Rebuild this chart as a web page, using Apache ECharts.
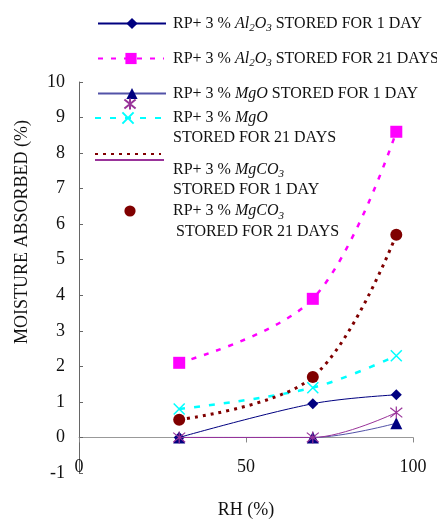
<!DOCTYPE html>
<html>
<head>
<meta charset="utf-8">
<script src="https://cdn.jsdelivr.net/npm/echarts@6/dist/echarts.min.js"></script>
<style>html,body{margin:0;padding:0;background:#fff}#c{width:437px;height:519px}</style>
</head>
<body>
<div id="c"></div>
<script>
const rhValues = [30, 70, 95];
const al2o3Day1 = [0, 0.95, 1.2];
const al2o3Day21 = [2.1, 3.9, 8.6];
const mgoDay1 = [0, 0, 0.4];
const mgoDay21 = [0.8, 1.4, 2.3];
const mgco3Day1 = [0, 0, 0.7];
const mgco3Day21 = [0.5, 1.7, 5.7];
const xTicks = [0, 50, 100];
const yTicks = [-1, 0, 1, 2, 3, 4, 5, 6, 7, 8, 9, 10];

const names = [
  'RP+ 3 % Al2O3 STORED FOR 1 DAY',
  'RP+ 3 % Al2O3 STORED FOR 21 DAYS',
  'RP+ 3 % MgO STORED FOR 1 DAY',
  'RP+ 3 % MgO STORED FOR 21 DAYS',
  'RP+ 3 % MgCO3 STORED FOR 1 DAY',
  'RP+ 3 % MgCO3 STORED FOR 21 DAYS'
];
const legendText = {};
legendText[names[0]] = '{g2| }{n|RP+ 3 % }{i|Al}{s|2}{i|O}{s|3}{n| STORED FOR 1 DAY}';
legendText[names[1]] = '{g4| }{n|RP+ 3 % }{i|Al}{s|2}{i|O}{s|3}{n| STORED FOR 21 DAYS}';
legendText[names[2]] = '{g2| }{n|RP+ 3 % }{i|MgO}{n| STORED FOR 1 DAY}';
legendText[names[3]] = '{n| }\n{g7| }{n|RP+ 3 % }{i|MgO}\n{g7| }{n|STORED FOR 21 DAYS}';
legendText[names[4]] = '{n| }\n{n| }\n{g4| }{n|RP+ 3 % }{i|MgCO}{s|3}\n{g4| }{n|STORED FOR 1 DAY}';
legendText[names[5]] = '{m| }\n{g3| }{m|RP+ 3 % }{mi|MgCO}{ms|3}\n{g6| }{m|STORED FOR 21 DAYS}';

const FONT = 'Liberation Serif';
const rich = {
  n: {fontFamily: FONT, fontSize: 16, color: '#111', lineHeight: 20},
  i: {fontFamily: FONT, fontSize: 16, fontStyle: 'italic', color: '#111', lineHeight: 20},
  s: {fontFamily: FONT, fontSize: 11, fontStyle: 'italic', color: '#111', lineHeight: 12, verticalAlign: 'bottom'},
  m: {fontFamily: FONT, fontSize: 16, color: '#111', lineHeight: 21},
  mi: {fontFamily: FONT, fontSize: 16, fontStyle: 'italic', color: '#111', lineHeight: 21},
  ms: {fontFamily: FONT, fontSize: 11, fontStyle: 'italic', color: '#111', lineHeight: 12, verticalAlign: 'bottom'},
  g2: {width: 2}, g3: {width: 3}, g4: {width: 4}, g6: {width: 6}, g7: {width: 7}
};

function pairs(vals) { return rhValues.map((x, i) => [x, vals[i]]); }

const XPATH = 'path://M0,0L10,10M10,0L0,10';
const STAR = 'path://M1,1L9,9M9,1L1,9M5,0L5,10';

function mkLegend(name, left, top, itemWidth, opts) {
  return Object.assign({
    data: [name], left: left, top: top, padding: 0,
    itemWidth: itemWidth, itemHeight: 14, selectedMode: false,
    formatter: n => legendText[n],
    textStyle: {rich: rich}
  }, opts || {});
}

const option = {
  animation: false,
  backgroundColor: '#fff',
  grid: {left: 79, right: 24, top: 82, bottom: 46, outerBoundsMode: 'none', containLabel: false},
  legend: [
    mkLegend(names[0], 97, 15.5, 68),
    mkLegend(names[1], 97, 50.5, 66),
    mkLegend(names[2], 97, 85.5, 68),
    mkLegend(names[3], 94, 90, 66),
    mkLegend(names[4], 94, 97, 70, {formatter: () => '', lineStyle: {opacity: 0}}),
    mkLegend(names[4], 94, 122, 69, {itemStyle: {opacity: 0}}),
    mkLegend(names[5], 94, 147, 66, {formatter: () => '', itemStyle: {opacity: 0}}),
    mkLegend(names[5], 94, 182, 70, {lineStyle: {opacity: 0}})
  ],
  xAxis: {
    type: 'value', min: 0, max: 100, interval: 50,
    name: 'RH (%)', nameLocation: 'middle', nameGap: 28,
    nameTextStyle: {fontFamily: FONT, fontSize: 18, color: '#111'},
    axisLine: {onZero: true, lineStyle: {color: '#999', width: 1}},
    axisTick: {show: true, inside: false, length: 5, lineStyle: {color: '#888'}},
    axisLabel: {margin: -15, fontFamily: FONT, fontSize: 18, color: '#111',
      formatter: v => xTicks.includes(v) ? String(v) : ''},
    splitLine: {show: false}
  },
  yAxis: {
    type: 'value', min: -1, max: 10, interval: 1,
    name: 'MOISTURE ABSORBED (%)', nameLocation: 'middle', nameGap: 48,
    nameTextStyle: {fontFamily: FONT, fontSize: 18, color: '#111', padding: [0, 0, 0, 91]},
    axisLine: {show: true, onZero: false, lineStyle: {color: '#666', width: 1}},
    axisTick: {show: true, inside: true, length: 4, lineStyle: {color: '#666'}},
    axisLabel: {margin: 14, fontFamily: FONT, fontSize: 18, color: '#111',
      formatter: v => yTicks.includes(v) ? String(v) : ''},
    splitLine: {show: false}
  },
  series: [
    {name: names[0], type: 'line', data: pairs(al2o3Day1), smooth: 0.35,
      symbol: 'diamond', symbolSize: 11, z: 3,
      lineStyle: {color: '#000080', width: 1}, itemStyle: {color: '#000080'}},
    {name: names[1], type: 'line', data: pairs(al2o3Day21), smooth: 0.35,
      symbol: 'rect', symbolSize: 12, z: 2,
      lineStyle: {color: '#FF00FF', width: 2.5, type: [5, 8]}, itemStyle: {color: '#FF00FF'}},
    {name: names[2], type: 'line', data: pairs(mgoDay1), smooth: 0.35,
      symbol: 'triangle', symbolSize: 12, z: 4,
      lineStyle: {color: '#5252A8', width: 1}, itemStyle: {color: '#000080'}},
    {name: names[3], type: 'line', data: pairs(mgoDay21), smooth: 0.35,
      symbol: XPATH, symbolSize: 11, z: 2,
      lineStyle: {color: '#00FFFF', width: 2.5, type: [6, 9]},
      itemStyle: {color: '#00FFFF', borderColor: '#00FFFF', borderWidth: 1.5}},
    {name: names[4], type: 'line', data: pairs(mgco3Day1), smooth: 0.35,
      symbol: STAR, symbolSize: 12, z: 5,
      lineStyle: {color: '#993399', width: 1},
      itemStyle: {color: '#993399', borderColor: '#993399', borderWidth: 1.2}},
    {name: names[5], type: 'line', data: pairs(mgco3Day21), smooth: 0.35,
      symbol: 'circle', symbolSize: 12, z: 2,
      lineStyle: {color: '#800000', width: 3, type: [3, 5]}, itemStyle: {color: '#800000'}}
  ]
};

const chart = echarts.init(document.getElementById('c'), null, {renderer: 'canvas'});
chart.setOption(option);
</script>
</body>
</html>
